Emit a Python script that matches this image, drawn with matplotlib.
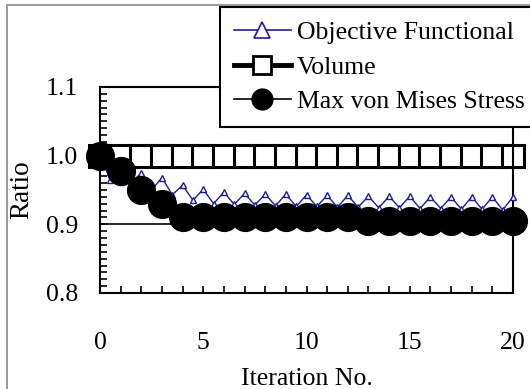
import matplotlib
matplotlib.use("Agg")
import matplotlib.pyplot as plt
from matplotlib.lines import Line2D
from matplotlib.patches import Rectangle
from matplotlib.ticker import MultipleLocator
import numpy as np

plt.rcParams['font.family'] = ['Liberation Serif', 'DejaVu Serif']

# --- datos ---
iteraciones = list(range(0, 21))
volumen = [1.0] * 21
tension_max = [1.000, 0.977, 0.950, 0.930, 0.910, 0.910, 0.910, 0.910, 0.910, 0.910,
               0.910, 0.910, 0.910, 0.905, 0.905, 0.905, 0.905, 0.905, 0.905, 0.905, 0.905]

# el funcional objetivo tiene puntos cada media iteracion
iter_obj = [i * 0.5 for i in range(41)]
funcional = [1.000, 0.965, 0.961, 0.960, 0.975, 0.950, 0.968, 0.943, 0.957, 0.935,
             0.951, 0.930, 0.947, 0.929, 0.945, 0.928, 0.944, 0.927, 0.944, 0.926,
             0.943, 0.926, 0.942, 0.925, 0.942, 0.925, 0.941, 0.924, 0.941, 0.924,
             0.941, 0.923, 0.940, 0.923, 0.940, 0.922, 0.940, 0.922, 0.940, 0.921,
             0.940]

etiquetas = ["Objective Functional", "Volume", "Max von Mises Stress"]
azul = "#1c1c96"

fig = plt.figure(figsize=(5.30, 3.89), dpi=100)
ax = fig.add_axes([100 / 530, 1 - 293 / 389, 413 / 530, 206 / 389])

ax.plot(iteraciones, volumen, color="black", lw=2.3, marker="s", ms=15.5,
        mfc="white", mec="black", mew=2.2, zorder=2, clip_on=False)
ax.plot(iter_obj, funcional, color=azul, lw=1.0, marker="^", ms=4.5,
        mfc="white", mec=azul, mew=1.0, zorder=3, clip_on=False)
ax.plot(iteraciones, tension_max, color="black", lw=1.0, marker="o", ms=20,
        mfc="black", mec="black", zorder=4, clip_on=False)

ax.set_xlim(0, 20)
ax.set_ylim(0.8, 1.1)
ax.set_xticks([0, 5, 10, 15, 20])
ax.set_yticks([0.8, 0.9, 1.0, 1.1])
ax.set_yticklabels(["0.8", "0.9", "1.0", "1.1"])
ax.xaxis.set_minor_locator(MultipleLocator(1))
ax.yaxis.set_minor_locator(MultipleLocator(0.01))
ax.tick_params(axis="both", which="both", direction="in", top=False, right=False,
               length=5, width=1.2, labelsize=18.5)
ax.tick_params(axis="x", which="major", pad=28)
ax.tick_params(axis="y", which="major", pad=16)
ax.yaxis.grid(True, color="black", lw=1.2)
ax.set_axisbelow(True)
for s in ax.spines.values():
    s.set_linewidth(1.5)

ax.set_xlabel("Iteration No.", fontsize=18.5, labelpad=10)
ax.set_ylabel("Ratio", fontsize=19.5, labelpad=8)

# leyenda con marcadores mas grandes que en la curva
manijas = [
    Line2D([], [], color=azul, lw=1.2, marker="^", ms=11, mfc="white", mec=azul, mew=1.2),
    Line2D([], [], color="black", lw=3.5, marker="s", ms=13, mfc="white", mec="black", mew=2.0),
    Line2D([], [], color="black", lw=1.2, marker="o", ms=15, mfc="black", mec="black"),
]
leg = fig.legend(manijas, etiquetas, loc="upper left",
                 bbox_to_anchor=(220 / 530, 1 - 7 / 389), bbox_transform=fig.transFigure,
                 fontsize=18.5, frameon=True, fancybox=False, framealpha=1,
                 edgecolor="black", borderpad=0.55, labelspacing=0.45,
                 handlelength=2.2, handletextpad=0.25, borderaxespad=0)
leg.get_frame().set_linewidth(1.5)

# marco gris del recorte original
fig.add_artist(Rectangle((7 / 530, -0.1), 1.2, 1.1 - 5 / 389, transform=fig.transFigure,
                         fill=False, edgecolor="#8a8a8a", lw=1.2, zorder=-5))

fig.savefig("out.png", dpi=100, facecolor="white")
